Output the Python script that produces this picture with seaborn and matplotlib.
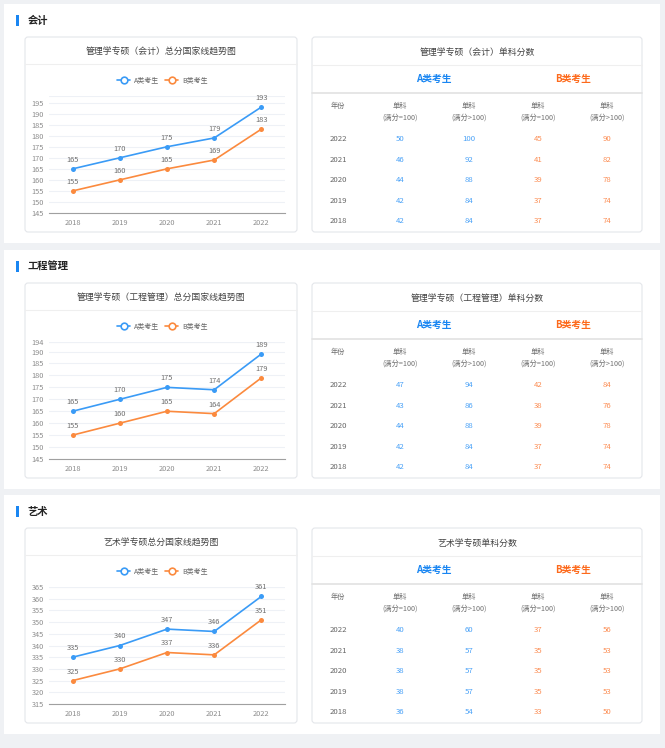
import numpy as np
import pandas as pd
import matplotlib
matplotlib.use("Agg")
import matplotlib.pyplot as plt
import seaborn as sns
from matplotlib.patches import FancyBboxPatch, Rectangle
from matplotlib.lines import Line2D

# ---- data ----
years = [2018, 2019, 2020, 2021, 2022]
table_years = [2022, 2021, 2020, 2019, 2018]
groups = ["A类考生", "B类考生"]

section_names = ["会计", "工程管理", "艺术"]
chart_titles = ["管理学专硕（会计）总分国家线趋势图",
                "管理学专硕（工程管理）总分国家线趋势图",
                "艺术学专硕总分国家线趋势图"]
table_titles = ["管理学专硕（会计）单科分数",
                "管理学专硕（工程管理）单科分数",
                "艺术学专硕单科分数"]

kuaiji_a = [165, 170, 175, 179, 193]
kuaiji_b = [155, 160, 165, 169, 183]
gongcheng_a = [165, 170, 175, 174, 189]
gongcheng_b = [155, 160, 165, 164, 179]
yishu_a = [335, 340, 347, 346, 361]
yishu_b = [325, 330, 337, 336, 351]

# single subject tables, rows 2022 -> 2018
kuaiji_a_100 = [50, 46, 44, 42, 42]
kuaiji_a_gt100 = [100, 92, 88, 84, 84]
kuaiji_b_100 = [45, 41, 39, 37, 37]
kuaiji_b_gt100 = [90, 82, 78, 74, 74]

gongcheng_a_100 = [47, 43, 44, 42, 42]
gongcheng_a_gt100 = [94, 86, 88, 84, 84]
gongcheng_b_100 = [42, 38, 39, 37, 37]
gongcheng_b_gt100 = [84, 76, 78, 74, 74]

yishu_a_100 = [40, 38, 38, 38, 36]
yishu_a_gt100 = [60, 57, 57, 57, 54]
yishu_b_100 = [37, 35, 35, 35, 33]
yishu_b_gt100 = [56, 53, 53, 53, 50]

col_headers = ["单科\n(满分=100)", "单科\n(满分>100)", "单科\n(满分=100)", "单科\n(满分>100)"]

# axis setup per section
y_limits = [(145, 198), (145, 194), (315, 365)]
y_ticks = [list(range(145, 196, 5)),
           list(range(145, 191, 5)) + [194],
           list(range(315, 366, 5))]
offsets = [0, 246, 491]

BLUE = "#3a9bf6"
ORANGE = "#fb8a3e"
A_HEAD = "#1a86f2"
B_HEAD = "#fd6a1c"
A_NUM = "#4ba2f7"
B_NUM = "#fc8c52"

W, H = 665, 748
sns.set_theme(style="white")
plt.rcParams["font.family"] = ["Noto Sans CJK SC", "DejaVu Sans"]

fig = plt.figure(figsize=(W / 100, H / 100), dpi=100)
fig.patch.set_facecolor("#eff1f4")
bg = fig.add_axes([0, 0, 1, 1])
bg.set_xlim(0, W)
bg.set_ylim(H, 0)
bg.axis("off")


def card(x0, y0, x1, y1, ec="#e4e6ea", lw=0.8, r=3):
    bg.add_patch(FancyBboxPatch((x0, y0), x1 - x0, y1 - y0,
                                boxstyle=f"round,pad=0,rounding_size={r}",
                                fc="white", ec=ec, lw=lw))


def px_axes(x0, y0, x1, y1):
    return fig.add_axes([x0 / W, 1 - y1 / H, (x1 - x0) / W, (y1 - y0) / H])


line_data = [(kuaiji_a, kuaiji_b), (gongcheng_a, gongcheng_b), (yishu_a, yishu_b)]
table_data = [(kuaiji_a_100, kuaiji_a_gt100, kuaiji_b_100, kuaiji_b_gt100),
              (gongcheng_a_100, gongcheng_a_gt100, gongcheng_b_100, gongcheng_b_gt100),
              (yishu_a_100, yishu_a_gt100, yishu_b_100, yishu_b_gt100)]

for k in range(3):
    oy = offsets[k]
    # outer white section
    bg.add_patch(Rectangle((4, 4 + oy), 656, 239, fc="white", ec="none"))
    bg.add_patch(Rectangle((16, 15 + oy), 3, 11, fc="#1a86f2", ec="none"))
    bg.text(28, 21 + oy, section_names[k], fontsize=7.4, weight="bold",
            color="#222222", va="center", ha="left")

    # ---- line chart card ----
    card(25, 37 + oy, 297, 232 + oy)
    bg.text(161, 51.5 + oy, chart_titles[k], fontsize=6.4, color="#444444",
            ha="center", va="center")
    bg.plot([25, 297], [64 + oy, 64 + oy], color="#efefef", lw=0.8)

    a_vals, b_vals = line_data[k]
    df = pd.DataFrame({"x": list(range(5)) * 2,
                       "score": a_vals + b_vals,
                       "group": [groups[0]] * 5 + [groups[1]] * 5})
    ax = px_axes(49, 96 + oy, 285, 213 + oy)
    ax.set_facecolor("white")
    sns.lineplot(data=df, x="x", y="score", hue="group",
                 palette=[BLUE, ORANGE], marker="o", markersize=3.6,
                 markeredgewidth=0, linewidth=1.2, ax=ax, legend=False)
    for vals in (a_vals, b_vals):
        for i, v in enumerate(vals):
            ax.annotate(str(v), (i, v), xytext=(0, 6.5), textcoords="offset points",
                        ha="center", va="center", fontsize=5.4, color="#707070")
    ax.set_xlim(-0.5, 4.5)
    ax.set_ylim(*y_limits[k])
    ax.set_yticks(y_ticks[k])
    ax.set_xticks(range(5))
    ax.set_xticklabels([str(y) for y in years])
    ax.set_xticks(np.arange(-0.5, 5, 1), minor=True)
    ax.tick_params(axis="x", which="major", length=0, pad=4.5,
                   labelsize=5.3, labelcolor="#8c8c8c")
    ax.tick_params(axis="x", which="minor", length=3, width=0.7,
                   color="#a0a0a0", direction="out")
    ax.tick_params(axis="y", length=0, pad=3.5, labelsize=5.3, labelcolor="#8c8c8c")
    ax.yaxis.grid(True, color="#eef1f6", lw=0.8)
    ax.axhline(y_limits[k][1], color="#eef1f6", lw=0.8, zorder=0)
    ax.set_axisbelow(True)
    for s in ("top", "right", "left"):
        ax.spines[s].set_visible(False)
    ax.spines["bottom"].set_color("#a0a0a0")
    ax.spines["bottom"].set_linewidth(0.8)
    ax.set_xlabel("")
    ax.set_ylabel("")

    handles = [Line2D([0], [0], color=c, lw=1.2, marker="o", markersize=4.8,
                      markerfacecolor="white", markeredgewidth=1.2)
               for c in (BLUE, ORANGE)]
    leg = ax.legend(handles, groups, loc="center", bbox_to_anchor=(0.48, 1.137),
                    ncol=2, frameon=False, fontsize=5, handlelength=1.9,
                    handletextpad=0.5, columnspacing=0.9, borderaxespad=0)
    for t in leg.get_texts():
        t.set_color("#666666")

    # ---- table card ----
    card(312, 37 + oy, 642, 232 + oy)
    bg.text(477, 52 + oy, table_titles[k], fontsize=6.4, color="#444444",
            ha="center", va="center")
    bg.plot([312, 642], [65 + oy, 65 + oy], color="#efefef", lw=0.8)
    bg.text(434, 79 + oy, groups[0], fontsize=7, weight="bold", color=A_HEAD,
            ha="center", va="center")
    bg.text(573, 79 + oy, groups[1], fontsize=7, weight="bold", color=B_HEAD,
            ha="center", va="center")
    bg.plot([312, 642], [93 + oy, 93 + oy], color="#e2e2e2", lw=1.2)

    col_x = [400, 469, 538, 607]
    bg.text(338, 106 + oy, "年份", fontsize=5.2, color="#707070",
            ha="center", va="center")
    for cx, hdr in zip(col_x, col_headers):
        top, bottom = hdr.split("\n")
        bg.text(cx, 106 + oy, top, fontsize=5.2, color="#707070",
                ha="center", va="center")
        bg.text(cx, 117.5 + oy, bottom, fontsize=5.2, color="#707070",
                ha="center", va="center")

    row_y = [139, 160, 180, 201, 221]
    cols = table_data[k]
    colors = [A_NUM, A_NUM, B_NUM, B_NUM]
    for r, yr in enumerate(table_years):
        bg.text(338, row_y[r] + oy, str(yr), fontsize=5.6, color="#666666",
                ha="center", va="center")
        for c in range(4):
            bg.text(col_x[c], row_y[r] + oy, str(cols[c][r]), fontsize=5.6,
                    color=colors[c], ha="center", va="center")

fig.savefig("out.png", dpi=100, facecolor=fig.get_facecolor())
